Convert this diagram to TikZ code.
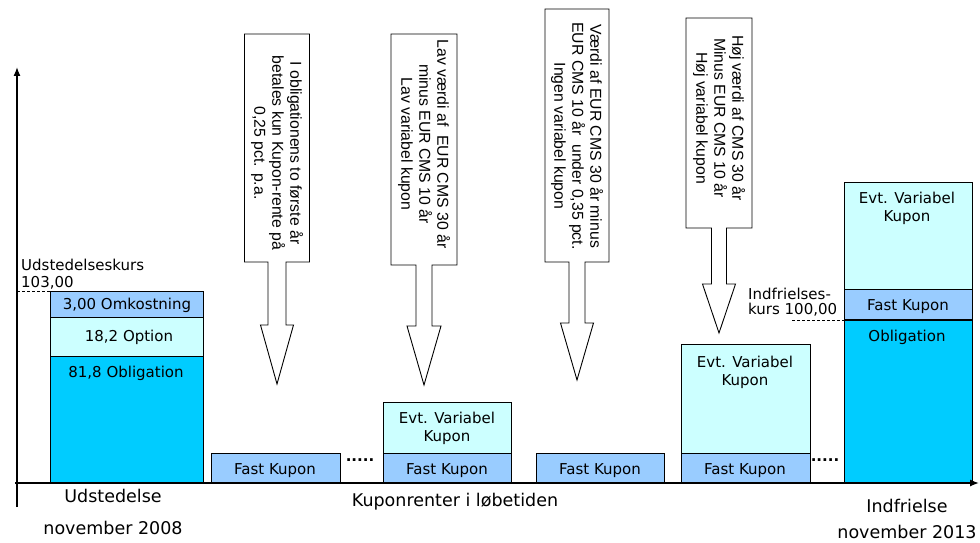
\documentclass[tikz,border=0pt]{standalone}
\usepackage{fontspec}
\setmainfont{DejaVu Sans}
\newfontfamily\arialf{Liberation Sans}
\usetikzlibrary{arrows.meta}
\definecolor{fastblue}{HTML}{99CCFF}
\definecolor{varcyan}{HTML}{CCFFFF}
\definecolor{obligblue}{HTML}{00CCFF}
\newcommand\blkarrow[8]{%
  \draw[blockarrow] (#1-#2,#3) -- (#1+#2,#3) -- (#1+#2,#4) -- (#1+#5,#4) -- (#1+#5,#6)
    -- (#1+#7,#6) -- (#1,#8) -- (#1-#7,#6) -- (#1-#5,#6) -- (#1-#5,#4) -- (#1-#2,#4) -- cycle;}
\begin{document}
\begin{tikzpicture}[x=1pt,y=-1pt,
  lbl/.style={font=\fontsize{15}{18}\selectfont, inner sep=0pt, align=center, yshift=-1.5pt},
  big/.style={font=\fontsize{17.5}{20}\selectfont, inner sep=0pt},
  arrtxt/.style={font=\arialf\fontsize{15.8}{18}\selectfont, rotate=-90, align=center, inner sep=0pt},
  boxline/.style={draw=black, line width=0.9pt},
  blockarrow/.style={draw=black, line width=0.9pt, fill=white},
  dashln/.style={line width=0.8pt, dash pattern=on 3pt off 2pt},
  dotsty/.style={font=\bfseries\fontsize{15}{18}\selectfont, inner sep=0pt},
  axis/.style={line width=1.3pt, -{Latex[length=9pt,width=7pt]}}
]
\useasboundingbox (0,0) rectangle (980,543);

% left box
\draw[boxline, fill=obligblue] (50,356) rectangle (203,483);
\draw[boxline, fill=varcyan] (50,317) rectangle (203,356);
\draw[boxline, fill=fastblue] (50,291) rectangle (203,317);
\node[lbl] (omk) at (127,304) {3,00 Omkostning};
\node[lbl] (opt) at (129,336) {18,2 Option};
\node[lbl] (obl) at (126,372) {81,8 Obligation};
\coordinate (dl1) at (17,291);
\coordinate (dl2) at (50,291);
\draw[dashln] (dl1) -- (dl2);
\node[lbl, anchor=west] (udk) at (21,263) {Udstedelseskurs};
\node[lbl, anchor=west] (kurs1) at (21,281) {103,00};

% coupon boxes
\draw[boxline, fill=fastblue] (211,453) rectangle (340,483);
\node[lbl] (fk1) at (275,469) {Fast Kupon};
\node[dotsty] (dots1) at (360,460) {.....};

\draw[boxline, fill=varcyan] (383,402) rectangle (511,453);
\draw[boxline, fill=fastblue] (383,453) rectangle (511,483);
\node[lbl] (ev2) at (447,427) {Evt. Variabel\\Kupon};
\node[lbl] (fk2) at (447,469) {Fast Kupon};

\draw[boxline, fill=fastblue] (536,453) rectangle (664,483);
\node[lbl] (fk3) at (600,469) {Fast Kupon};

\draw[boxline, fill=varcyan] (681,344) rectangle (810,453);
\draw[boxline, fill=fastblue] (681,453) rectangle (810,483);
\node[lbl] (ev4) at (745,371) {Evt. Variabel\\Kupon};
\node[lbl] (fk4) at (745,469) {Fast Kupon};
\node[dotsty] (dots2) at (825,460) {.....};

% right box
\draw[boxline, fill=varcyan] (844,182) rectangle (972,289);
\draw[boxline, fill=fastblue] (844,289) rectangle (972,320);
\draw[boxline, fill=obligblue] (844,320) rectangle (972,483);
\draw[line width=1.4pt] (844,320) -- (972,320);
\node[lbl] (ev5) at (907,207) {Evt. Variabel\\Kupon};
\node[lbl] (fk5) at (908,305) {Fast Kupon};
\node[lbl] (obl5) at (907,336) {Obligation};
\coordinate (dr1) at (792,320);
\coordinate (dr2) at (844,320);
\draw[dashln] (dr1) -- (dr2);
\node[lbl, anchor=west] (ind1) at (748,292) {Indfrielses-};
\node[lbl, anchor=west] (ind2) at (748,308) {kurs 100,00};

% axes
\coordinate (xs) at (15,483);
\coordinate (xe) at (979,483);
\coordinate (ys) at (17,507);
\coordinate (ye) at (17,67);
\draw[axis] (xs) -- (xe);
\draw[axis] (ys) -- (ye);

% bottom labels
\node[big] (udst) at (113,496) {Udstedelse};
\node[big] (nov8) at (113,528) {november 2008};
\node[big] (kup) at (455,502) {Kuponrenter i løbetiden};
\node[big] (indf) at (907,506) {Indfrielse};
\node[big] (nov13) at (907,532) {november 2013};

% block arrows
\blkarrow{277}{32.5}{34}{262}{9}{325}{16.5}{384}
\blkarrow{424}{33}{34}{265}{8}{326}{17}{385}
\blkarrow{577}{32}{9}{262}{8}{323}{16.5}{380}
\blkarrow{719}{33}{18}{228}{7.5}{284}{16.5}{333}

\node[arrtxt] (t1) at (277,153) {I obligationens to første år\\betales kun Kupon-rente på\\0,25 pct. p.a.};
\node[arrtxt] (t2) at (424,144) {Lav værdi af~ EUR CMS 30 år\\minus EUR CMS 10 år\\Lav variabel kupon};
\node[arrtxt] (t3) at (577,136) {Værdi af EUR CMS 30 år minus\\EUR CMS 10 år~ under 0,35 pct.\\Ingen variabel kupon};
\node[arrtxt] (t4) at (719,118) {Høj værdi af CMS 30 år\\Minus EUR CMS 10 år\\Høj variabel kupon};
\end{tikzpicture}
\end{document}
